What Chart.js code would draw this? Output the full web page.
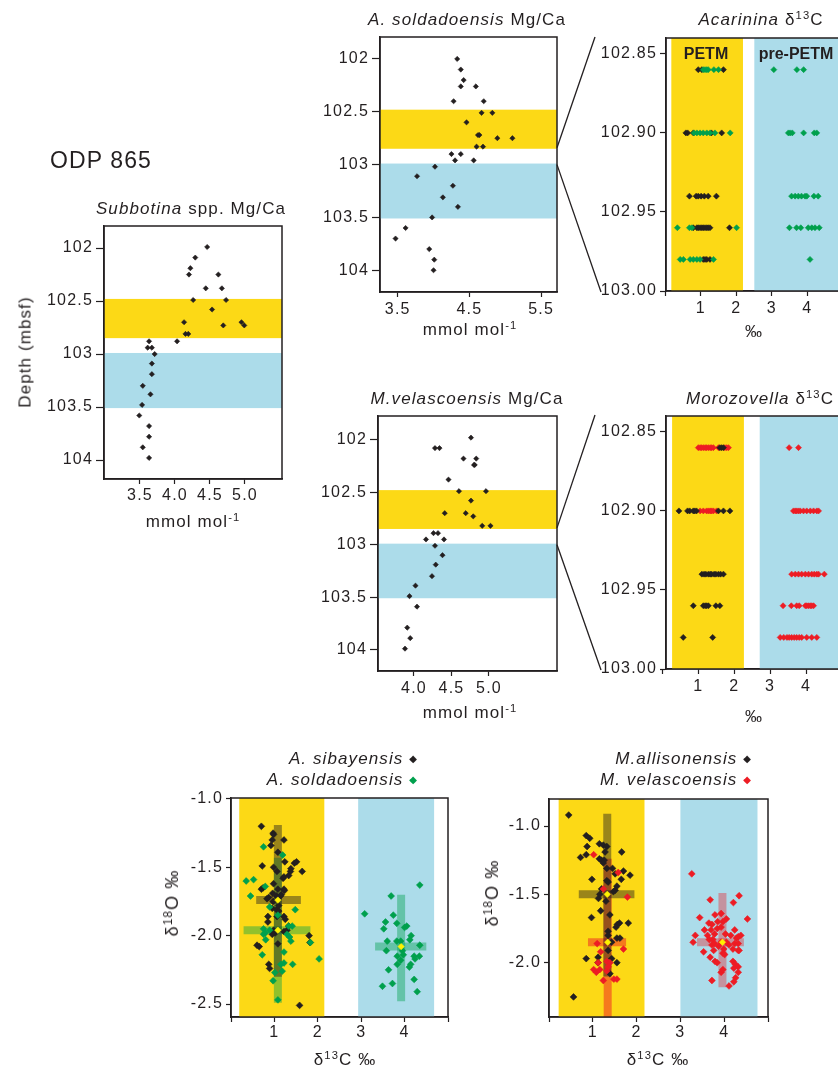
<!DOCTYPE html>
<html>
<head>
<meta charset="utf-8">
<script src="https://cdn.jsdelivr.net/npm/chart.js@4.4.1/dist/chart.umd.min.js"></script>
<style>
    html, body { margin: 0; padding: 0; background: #fff; }
    body { position: relative; width: 838px; height: 1072px; overflow: hidden;
           font-family: "Liberation Sans", Arial, Helvetica, sans-serif; color: #231f20; }
    canvas { position: absolute; }
    .lbl { position: absolute; white-space: nowrap; line-height: 1; letter-spacing: 1.1px; }
    .lbl sup { font-size: 0.66em; vertical-align: 0.5em; line-height: 0; }
    .dm { font-family: "DejaVu Sans", sans-serif; font-size: 10px; vertical-align: 2px; }
</style>
</head>
<body>
<script>
/* ODP 865 · Mg/Ca depth profiles, δ13C detail and δ13C–δ18O cross plots */
(function () {
    'use strict';

    const FONT = '"Liberation Sans", Arial, Helvetica, sans-serif';
    const INK = '#231f20';
    const YELLOW = '#fcd916';
    const BLUE = '#acdcea';
    const GREEN = '#00a04d';
    const RED = '#ed1c24';
    const MEAN = '#fff200';

    // depth intervals (mbsf)
    const petmDepth = [102.48, 102.85];
    const prePetmDepth = [102.99, 103.51];
    const detailDepth = [102.84, 103.00];

    // Subbotina spp. Mg/Ca
    const subDepth = [101.99, 102.09, 102.19, 102.25, 102.25, 102.38, 102.38, 102.49, 102.49, 102.58, 102.70, 102.73, 102.70, 102.73, 102.81, 102.81, 102.88, 102.88, 102.94, 102.94, 103.00, 103.09, 103.19, 103.30, 103.38, 103.48, 103.58, 103.68, 103.78, 103.88, 103.98];
    const subMgCa = [4.46, 4.29, 4.22, 4.20, 4.62, 4.44, 4.67, 4.26, 4.73, 4.53, 4.13, 4.69, 4.95, 4.99, 4.15, 4.19, 4.03, 3.63, 3.61, 3.67, 3.71, 3.67, 3.67, 3.54, 3.65, 3.53, 3.49, 3.63, 3.63, 3.54, 3.63];

    // A. soldadoensis Mg/Ca
    const soldDepth = [102.00, 102.10, 102.20, 102.26, 102.26, 102.40, 102.40, 102.51, 102.51, 102.60, 102.72, 102.72, 102.75, 102.75, 102.83, 102.83, 102.90, 102.90, 102.96, 102.96, 103.02, 103.11, 103.20, 103.31, 103.40, 103.50, 103.60, 103.70, 103.80, 103.90, 104.00];
    const soldMgCa = [4.33, 4.38, 4.42, 4.38, 4.59, 4.28, 4.70, 4.67, 4.82, 4.46, 4.62, 4.64, 4.89, 5.10, 4.60, 4.69, 4.25, 4.38, 4.30, 4.56, 4.02, 3.77, 4.27, 4.13, 4.34, 3.98, 3.61, 3.47, 3.94, 4.01, 4.00];

    // M. velascoensis Mg/Ca
    const velDepth = [101.98, 102.08, 102.08, 102.18, 102.18, 102.24, 102.24, 102.38, 102.49, 102.49, 102.58, 102.70, 102.70, 102.73, 102.82, 102.82, 102.89, 102.89, 102.95, 102.95, 103.01, 103.10, 103.19, 103.30, 103.39, 103.49, 103.59, 103.79, 103.89, 103.99];
    const velMgCa = [4.76, 4.28, 4.34, 4.66, 4.83, 4.80, 4.81, 4.46, 4.60, 4.96, 4.76, 4.41, 4.69, 4.79, 4.91, 5.02, 4.26, 4.32, 4.16, 4.40, 4.28, 4.38, 4.29, 4.24, 4.02, 3.94, 4.04, 3.91, 3.95, 3.88];

    // single-specimen d13C, one row per sample depth
    const sampleDepths = [102.86, 102.90, 102.94, 102.96, 102.98];
    const acaSibD13C = [[0.93, 1.03, 1.64], [0.58, 0.63, 0.79, 1.30, 1.59], [0.68, 0.87, 0.93, 1.01, 1.10, 1.21, 1.44], [0.79, 0.89, 0.93, 0.98, 1.03, 1.07, 1.12, 1.17, 1.21, 1.26, 1.81], [1.07, 1.12, 1.17, 1.26]];
    const acaSoldD13C = [[1.07, 1.12, 1.17, 1.21, 1.37, 1.50, 3.06, 3.71, 3.90], [0.81, 0.89, 0.98, 1.07, 1.17, 1.26, 1.40, 1.83, 3.47, 3.52, 3.58, 3.90, 4.20, 4.27], [3.56, 3.66, 3.75, 3.84, 3.94, 3.99, 4.19, 4.31], [0.34, 0.68, 0.75, 2.01, 3.50, 3.70, 3.82, 4.03, 4.13, 4.22, 4.34], [0.42, 0.51, 0.70, 0.79, 0.89, 0.98, 1.36, 4.08]];
    const morAllD13C = [[1.60, 1.65, 1.70], [0.46, 0.70, 0.76, 0.86, 0.90, 0.95, 1.56, 1.70, 1.88], [1.10, 1.16, 1.21, 1.28, 1.33, 1.37, 1.44, 1.49, 1.56, 1.62, 1.70], [0.86, 1.14, 1.19, 1.23, 1.28, 1.49, 1.60], [0.58, 1.40]];
    const morVelD13C = [[1.00, 1.05, 1.09, 1.14, 1.19, 1.23, 1.28, 1.33, 1.37, 1.42, 1.56, 1.74, 1.79, 1.84, 3.53, 3.79], [1.05, 1.14, 1.23, 1.28, 1.33, 1.37, 1.42, 1.51, 3.65, 3.70, 3.74, 3.79, 3.84, 3.93, 4.02, 4.12, 4.21, 4.30, 4.35], [3.60, 3.70, 3.79, 3.88, 3.98, 4.07, 4.16, 4.23, 4.30, 4.35, 4.51], [3.36, 3.59, 3.74, 3.81, 3.98, 4.02, 4.07, 4.12, 4.16, 4.21], [3.28, 3.38, 3.47, 3.53, 3.60, 3.67, 3.74, 3.81, 3.88, 4.02, 4.16, 4.30]];

    // d13C grouping of the detail panels (PETM / pre-PETM)
    const acaPetmD13C = [0.17, 2.19];
    const acaPreD13C = [2.51, 6];
    const morPetmD13C = [0.27, 2.27];
    const morPreD13C = [2.71, 6];

    // cross plot: Acarinina
    const sibC13 = [0.70, 0.97, 0.95, 0.98, 1.22, 0.92, 1.08, 0.72, 0.98, 1.24, 1.46, 1.51, 1.38, 1.64, 1.33, 1.06, 1.20, 1.22, 0.74, 0.70, 0.98, 1.08, 1.22, 1.23, 0.96, 0.83, 0.87, 1.05, 1.14, 0.97, 0.95, 1.05, 1.10, 1.22, 1.25, 0.85, 1.06, 0.85, 0.98, 1.02, 1.22, 1.29, 1.33, 0.95, 1.80, 1.82, 0.60, 0.65, 1.08, 0.87, 0.89, 1.58, 1.10, 1.16, 1.37];
    const sibO18 = [-1.20, -1.25, -1.30, -1.26, -1.30, -1.34, -1.39, -1.49, -1.50, -1.46, -1.47, -1.46, -1.51, -1.53, -1.56, -1.53, -1.58, -1.57, -1.65, -1.66, -1.62, -1.66, -1.66, -1.67, -1.69, -1.73, -1.72, -1.71, -1.71, -1.75, -1.80, -1.81, -1.82, -1.86, -1.88, -1.86, -1.86, -1.90, -1.96, -1.98, -1.97, -1.96, -1.93, -1.99, -2.00, -2.05, -2.07, -2.08, -2.06, -2.21, -2.24, -2.51, -1.78, -1.70, -1.53];
    const soldC13 = [0.75, 1.19, 0.35, 0.52, 0.45, 0.79, 1.48, 0.89, 1.08, 0.75, 0.79, 0.75, 0.89, 1.33, 1.41, 1.29, 1.35, 1.38, 0.80, 1.83, 0.72, 1.22, 1.15, 1.42, 1.18, 1.01, 0.97, 2.03, 1.08, 1.22,
        3.08, 3.69, 3.74, 4.35, 3.82, 3.52, 3.56, 4.00, 4.05, 4.15, 3.60, 3.82, 3.91, 4.12, 4.35, 3.58, 3.95, 3.97, 3.83, 3.91, 4.34, 4.22, 4.24, 3.83, 4.11, 4.14, 3.63, 4.22, 3.72, 3.49, 4.29];
    const soldO18 = [-1.35, -1.41, -1.60, -1.59, -1.71, -1.64, -1.81, -1.79, -1.85, -1.95, -1.98, -1.99, -1.96, -1.93, -1.93, -1.99, -2.01, -2.04, -2.03, -2.05, -2.14, -2.12, -2.21, -2.21, -2.26, -2.27, -2.33, -2.17, -2.47, -2.20,
        -1.84, -1.71, -1.85, -1.63, -1.91, -1.95, -1.90, -1.94, -1.93, -2.00, -2.04, -2.04, -2.04, -2.03, -2.07, -2.11, -2.11, -2.14, -2.15, -2.18, -2.15, -2.15, -2.17, -2.21, -2.23, -2.21, -2.25, -2.32, -2.35, -2.37, -2.41];
    // crosses: [low, mean, high]
    const sibPetmC13 = [0.58, 1.08, 1.61], sibPetmO18 = [-2.30, -1.74, -1.19];
    const soldPetmC13 = [0.29, 1.08, 1.83], soldPetmO18 = [-2.49, -1.96, -1.43];
    const soldPreC13 = [3.32, 3.92, 4.50], soldPreO18 = [-2.48, -2.08, -1.70];

    // cross plot: Morozovella
    const allC13 = [0.45, 0.85, 0.93, 1.15, 1.24, 1.32, 0.87, 1.28, 1.66, 0.85, 0.72, 1.15, 1.20, 1.26, 1.24, 1.32, 1.45, 1.70, 1.51, 1.65, 1.85, 0.98, 1.32, 1.35, 1.55, 1.51, 1.47, 1.20, 1.13, 1.16, 1.30, 1.18, 1.39, 0.97, 1.61, 1.56, 1.53, 1.81, 1.35, 1.35, 1.55, 1.35, 0.85, 1.12, 1.43, 1.55, 1.39, 0.56, 1.12, 1.62, 1.43];
    const allO18 = [-0.92, -1.07, -1.09, -1.13, -1.14, -1.15, -1.15, -1.19, -1.19, -1.21, -1.23, -1.24, -1.25, -1.25, -1.27, -1.31, -1.31, -1.33, -1.35, -1.39, -1.36, -1.39, -1.40, -1.41, -1.44, -1.47, -1.48, -1.46, -1.53, -1.50, -1.55, -1.62, -1.65, -1.67, -1.71, -1.72, -1.74, -1.71, -1.77, -1.80, -1.82, -1.91, -1.97, -1.96, -1.97, -2.00, -2.08, -2.25, -2.00, -1.82, -1.85];
    const velC13 = [1.02, 1.58, 1.24, 1.79, 1.10, 1.18, 1.70, 1.32, 1.39, 1.12, 1.02, 1.08, 1.16, 1.24, 1.48, 1.55, 1.32, 1.35,
        3.26, 3.68, 4.34, 4.21, 4.53, 3.44, 3.79, 3.93, 4.05, 3.65, 3.72, 3.85, 3.97, 3.84, 3.55, 3.70, 3.78, 4.03, 3.93, 3.34, 4.24, 3.62, 3.74, 4.15, 4.28, 4.32, 4.38, 3.29, 3.66, 3.93, 4.05, 4.11, 4.24, 4.32, 3.72, 3.78, 3.87, 3.99, 4.20, 4.32, 3.53, 3.76, 3.97, 4.01, 4.34, 3.68, 3.79, 3.84, 4.20, 4.25, 4.32, 3.93, 3.97, 4.22, 4.32, 3.72, 4.26, 4.22, 4.11];
    const velO18 = [-1.21, -1.34, -1.46, -1.52, -1.86, -1.92, -1.90, -1.99, -2.00, -2.00, -2.05, -2.07, -2.05, -2.13, -2.12, -2.12, -2.06, -2.03,
        -1.35, -1.54, -1.51, -1.56, -1.68, -1.67, -1.65, -1.64, -1.68, -1.71, -1.72, -1.70, -1.70, -1.75, -1.76, -1.76, -1.79, -1.79, -1.74, -1.80, -1.76, -1.80, -1.83, -1.80, -1.82, -1.81, -1.80, -1.85, -1.83, -1.85, -1.85, -1.87, -1.86, -1.86, -1.87, -1.86, -1.88, -1.90, -1.90, -1.91, -1.92, -1.91, -1.93, -1.94, -1.91, -1.96, -1.99, -2.00, -1.99, -2.01, -2.03, -2.07, -2.05, -2.04, -2.07, -2.13, -2.11, -2.14, -2.17];
    const allPetmC13 = [0.68, 1.33, 1.95], allPetmO18 = [-2.10, -1.50, -0.91];
    const velPetmC13 = [0.89, 1.34, 1.76], velPetmO18 = [-2.45, -1.85, -1.24];
    const velPreC13 = [3.38, 3.96, 4.45], velPreO18 = [-2.18, -1.85, -1.49];

    // cross plot grouping (PETM / pre-PETM)
    const acaPlotPetm = [0.19, 2.15], acaPlotPre = [2.93, 4.68];
    const morPlotPetm = [0.22, 2.18], morPlotPre = [3.00, 4.76];

    // tick values
    const depthTicks = [102, 102.5, 103, 103.5, 104];
    const detailTicks = [102.85, 102.90, 102.95, 103.00];
    const permilTicks = [0, 1, 2, 3, 4, 5];
    const subTicks = [3.5, 4.0, 4.5, 5.0];
    const soldTicks = [3.5, 4.5, 5.5];
    const velTicks = [4.0, 4.5, 5.0];
    const acaO18Ticks = [-1.0, -1.5, -2.0, -2.5];
    const morO18Ticks = [-1.0, -1.5, -2.0];

    // ---------------------------------------------------------------

    const PAD_T = 14, PAD_R = 10;
    const charts = {};

    Chart.register({
        id: 'bands',
        beforeDraw(chart) {
            chart.ctx.letterSpacing = '1.2px';
        },
        beforeDatasetsDraw(chart, args, opts) {
            const { ctx, chartArea: a, scales } = chart;
            ctx.save();
            (opts.list || []).forEach(([axis, range, color]) => {
                ctx.fillStyle = color;
                if (axis === 'y') {
                    const y1 = scales.y.getPixelForValue(range[0]);
                    const y2 = scales.y.getPixelForValue(range[1]);
                    ctx.fillRect(a.left, Math.min(y1, y2), a.right - a.left, Math.abs(y2 - y1));
                } else {
                    const x1 = Math.max(scales.x.getPixelForValue(range[0]), a.left);
                    const x2 = Math.min(scales.x.getPixelForValue(range[1]), a.right);
                    ctx.fillRect(x1, a.top, x2 - x1, a.bottom - a.top);
                }
            });
            ctx.restore();
        },
        afterDatasetsDraw(chart) {
            const { ctx, chartArea: a } = chart;
            ctx.save();
            ctx.strokeStyle = INK;
            ctx.lineWidth = 1.5;
            ctx.strokeRect(a.left, a.top, a.right - a.left, a.bottom - a.top);
            ctx.restore();
        },
    });

    function axis(a, horiz) {
        return {
            type: 'linear',
            position: horiz ? 'bottom' : 'left',
            min: a.min,
            max: a.max,
            reverse: !!a.reverse,
            afterBuildTicks: (s) => { s.ticks = a.ticks.map((v) => ({ value: v })); },
            afterFit: (s) => { if (horiz) s.height = a.size; else s.width = a.size; },
            grid: { display: true, drawOnChartArea: false, drawTicks: true, tickLength: a.tick, tickWidth: 1.2, tickColor: INK, color: INK },
            border: { display: true, color: INK, width: 1.5 },
            ticks: { autoSkip: false, maxRotation: 0, padding: a.pad, color: INK, font: { family: FONT, size: a.font || 16 }, callback: a.fmt },
        };
    }

    function makeChart(name, area, cfg) {
        const c = document.createElement('canvas');
        const w = area.r - area.l + cfg.y.size + PAD_R;
        const h = area.b - area.t + PAD_T + cfg.x.size;
        c.width = w;
        c.height = h;
        c.style.left = (area.l - cfg.y.size) + 'px';
        c.style.top = (area.t - PAD_T) + 'px';
        document.body.appendChild(c);
        const ch = new Chart(c, {
            type: 'scatter',
            data: { datasets: cfg.datasets },
            options: {
                responsive: false,
                animation: false,
                events: [],
                layout: { padding: { top: PAD_T, right: PAD_R, left: 0, bottom: 0 } },
                plugins: { legend: { display: false }, tooltip: { enabled: false }, bands: { list: cfg.bands } },
                scales: { x: axis(cfg.x, true), y: axis(cfg.y, false) },
            },
        });
        ch.$left = area.l - cfg.y.size;
        ch.$top = area.t - PAD_T;
        charts[name] = ch;
        return ch;
    }

    function dots(xs, ys, color, r, order) {
        return {
            data: xs.map((x, i) => ({ x, y: ys[i] })),
            pointStyle: 'rectRot', pointRadius: r,
            pointBackgroundColor: color, pointBorderColor: color, pointBorderWidth: 0.6,
            showLine: false, order,
        };
    }

    function rowDots(rows, color, r, order) {
        const xs = [], ys = [];
        rows.forEach((row, i) => row.forEach((v) => { xs.push(v); ys.push(sampleDepths[i]); }));
        return dots(xs, ys, color, r, order);
    }

    function cross(cx, cy, color) {
        const base = { showLine: true, pointRadius: 0, borderColor: color, borderWidth: 8, borderCapStyle: 'butt', clip: 0, order: 5 };
        return [
            { ...base, data: [{ x: cx[1], y: cy[0] }, { x: cx[1], y: cy[2] }] },
            { ...base, data: [{ x: cx[0], y: cy[1] }, { x: cx[2], y: cy[1] }] },
        ];
    }

    function means(list) {
        return dots(list.map((p) => p[0][1]), list.map((p) => p[1][1]), MEAN, 3.2, 0);
    }

    const fmt1 = (v) => v.toFixed(1);
    const fmtDepth = (v) => String(v);
    const fmt2 = (v) => v.toFixed(2);
    const fmtPermil = (v) => (v >= 1 && v <= 4 ? String(v) : '');

    const depthBands = [['y', petmDepth, YELLOW], ['y', prePetmDepth, BLUE]];
    const mgY = (min, max) => ({ min, max, reverse: true, ticks: depthTicks, fmt: fmtDepth, size: 70, tick: 8, pad: 3, font: 16 });

    // Mg/Ca profiles
    makeChart('A', { l: 104, t: 226, r: 282, b: 479 }, {
        x: { min: 2.986, max: 5.529, ticks: subTicks, fmt: fmt1, size: 40, tick: 5, pad: 2, font: 16 },
        y: mgY(101.792, 104.179),
        bands: depthBands,
        datasets: [dots(subMgCa, subDepth, INK, 2.6, 1)],
    });
    makeChart('B', { l: 380, t: 37, r: 557, b: 292 }, {
        x: { min: 3.253, max: 5.722, ticks: soldTicks, fmt: fmt1, size: 40, tick: 5, pad: 3, font: 16 },
        y: mgY(101.792, 104.206),
        bands: depthBands,
        datasets: [dots(soldMgCa, soldDepth, INK, 2.6, 1)],
    });
    makeChart('D', { l: 378, t: 416, r: 557, b: 671 }, {
        x: { min: 3.52, max: 5.907, ticks: velTicks, fmt: fmt1, size: 40, tick: 5, pad: 3, font: 16 },
        y: mgY(101.774, 104.203),
        bands: depthBands,
        datasets: [dots(velMgCa, velDepth, INK, 2.6, 1)],
    });

    // d13C detail
    const detY = { min: detailDepth[0], max: detailDepth[1], reverse: true, ticks: detailTicks, fmt: fmt2, size: 70, tick: 6, pad: 3, font: 16 };
    makeChart('C', { l: 666, t: 38, r: 843, b: 291 }, {
        x: { min: 0.02, max: 5.01, ticks: permilTicks, fmt: fmtPermil, size: 40, tick: 5, pad: 3, font: 16 },
        y: detY,
        bands: [['x', acaPetmD13C, YELLOW], ['x', acaPreD13C, BLUE]],
        datasets: [rowDots(acaSibD13C, INK, 3, 2), rowDots(acaSoldD13C, GREEN, 3, 1)],
    });
    makeChart('E', { l: 666, t: 416, r: 843, b: 669 }, {
        x: { min: 0.1, max: 5.03, ticks: permilTicks, fmt: fmtPermil, size: 40, tick: 5, pad: 3, font: 16 },
        y: detY,
        bands: [['x', morPetmD13C, YELLOW], ['x', morPreD13C, BLUE]],
        datasets: [rowDots(morVelD13C, RED, 3, 2), rowDots(morAllD13C, INK, 3, 1)],
    });

    // cross plots
    makeChart('F', { l: 231, t: 798, r: 448, b: 1017 }, {
        x: { min: 0, max: 5, ticks: permilTicks, fmt: fmtPermil, size: 40, tick: 5, pad: 1, font: 16 },
        y: { min: -2.595, max: -0.993, ticks: acaO18Ticks, fmt: fmt1, size: 66, tick: 5, pad: 3, font: 16 },
        bands: [['x', acaPlotPetm, YELLOW], ['x', acaPlotPre, BLUE]],
        datasets: [
            ...cross(sibPetmC13, sibPetmO18, 'rgba(35,31,32,0.45)'),
            ...cross(soldPetmC13, soldPetmO18, 'rgba(0,160,77,0.42)'),
            ...cross(soldPreC13, soldPreO18, 'rgba(0,160,77,0.42)'),
            dots(sibC13, sibO18, INK, 3.4, 2),
            dots(soldC13, soldO18, GREEN, 3.4, 1),
            means([[sibPetmC13, sibPetmO18], [soldPetmC13, soldPetmO18], [soldPreC13, soldPreO18]]),
        ],
    });
    makeChart('G', { l: 549, t: 799, r: 768, b: 1017 }, {
        x: { min: 0, max: 5, ticks: permilTicks, fmt: fmtPermil, size: 40, tick: 5, pad: 1, font: 16 },
        y: { min: -2.397, max: -0.8025, ticks: morO18Ticks, fmt: fmt1, size: 66, tick: 5, pad: 3, font: 16 },
        bands: [['x', morPlotPetm, YELLOW], ['x', morPlotPre, BLUE]],
        datasets: [
            ...cross(allPetmC13, allPetmO18, 'rgba(35,31,32,0.45)'),
            ...cross(velPetmC13, velPetmO18, 'rgba(237,28,36,0.5)'),
            ...cross(velPreC13, velPreO18, 'rgba(237,28,36,0.38)'),
            dots(allC13, allO18, INK, 3.4, 2),
            dots(velC13, velO18, RED, 3.4, 1),
            means([[allPetmC13, allPetmO18], [velPetmC13, velPetmO18], [velPreC13, velPreO18]]),
        ],
    });

    // zoom connectors from the Mg/Ca panels to the detail panels
    const ov = document.createElement('canvas');
    ov.width = 838;
    ov.height = 1072;
    ov.style.left = '0px';
    ov.style.top = '0px';
    document.body.appendChild(ov);
    const g = ov.getContext('2d');
    g.strokeStyle = INK;
    g.lineWidth = 1.3;
    [['B', 'C'], ['D', 'E']].forEach(([from, to]) => {
        const a = charts[from], b = charts[to];
        const x1 = a.$left + a.chartArea.right;
        const bl = b.$left + b.chartArea.left;
        detailDepth.forEach((d, i) => {
            const y1 = a.$top + a.scales.y.getPixelForValue(d);
            const y2 = b.$top + b.scales.y.getPixelForValue(d) + (i === 0 ? -1 : 1);
            g.beginPath();
            g.moveTo(x1, y1);
            g.lineTo(bl - (i === 0 ? 71 : 65), y2);
            g.stroke();
        });
    });

    // text
    function text(html, x, y, o = {}) {
        const d = document.createElement('div');
        d.className = 'lbl';
        d.innerHTML = html;
        d.style.left = x + 'px';
        d.style.top = y + 'px';
        d.style.fontSize = (o.size || 17) + 'px';
        if (o.bold) { d.style.fontWeight = 'bold'; d.style.letterSpacing = '0px'; }
        const tx = o.align === 'right' ? '-100%' : '-50%';
        d.style.transform = `translate(${tx},-50%)` + (o.rot ? ` rotate(${o.rot}deg)` : '');
        document.body.appendChild(d);
    }

    const mmol = 'mmol mol<sup>-1</sup>';
    text('ODP 865', 101, 160, { size: 23 });
    text('Depth (mbsf)', 25, 352, { size: 17, rot: -90 });
    text('<i>Subbotina</i> spp. Mg/Ca', 191, 208);
    text(mmol, 193, 521);
    text('<i>A. soldadoensis</i> Mg/Ca', 467, 19);
    text(mmol, 470, 329);
    text('<i>M.velascoensis</i> Mg/Ca', 467, 398);
    text(mmol, 470, 712);
    text('<i>Acarinina</i> δ<sup>13</sup>C', 761, 19);
    text('‰', 754, 331);
    text('<i>Morozovella</i> δ<sup>13</sup>C', 760, 398);
    text('‰', 754, 716);
    text('PETM', 706, 54, { size: 16, bold: true });
    text('pre-PETM', 796, 54, { size: 16, bold: true });

    text(`<i>A. sibayensis</i> <span class="dm" style="color:${INK}">◆</span>`, 418, 758, { align: 'right' });
    text(`<i>A. soldadoensis</i> <span class="dm" style="color:${GREEN}">◆</span>`, 418, 779, { align: 'right' });
    text(`<i>M.allisonensis</i> <span class="dm" style="color:${INK}">◆</span>`, 752, 758, { align: 'right' });
    text(`<i>M. velascoensis</i> <span class="dm" style="color:${RED}">◆</span>`, 752, 779, { align: 'right' });
    text('δ<sup>18</sup>O ‰', 172, 903, { size: 18, rot: -90 });
    text('δ<sup>18</sup>O ‰', 492, 893, { size: 18, rot: -90 });
    text('δ<sup>13</sup>C ‰', 345, 1059);
    text('δ<sup>13</sup>C ‰', 658, 1059);
})();
</script>
</body>
</html>
